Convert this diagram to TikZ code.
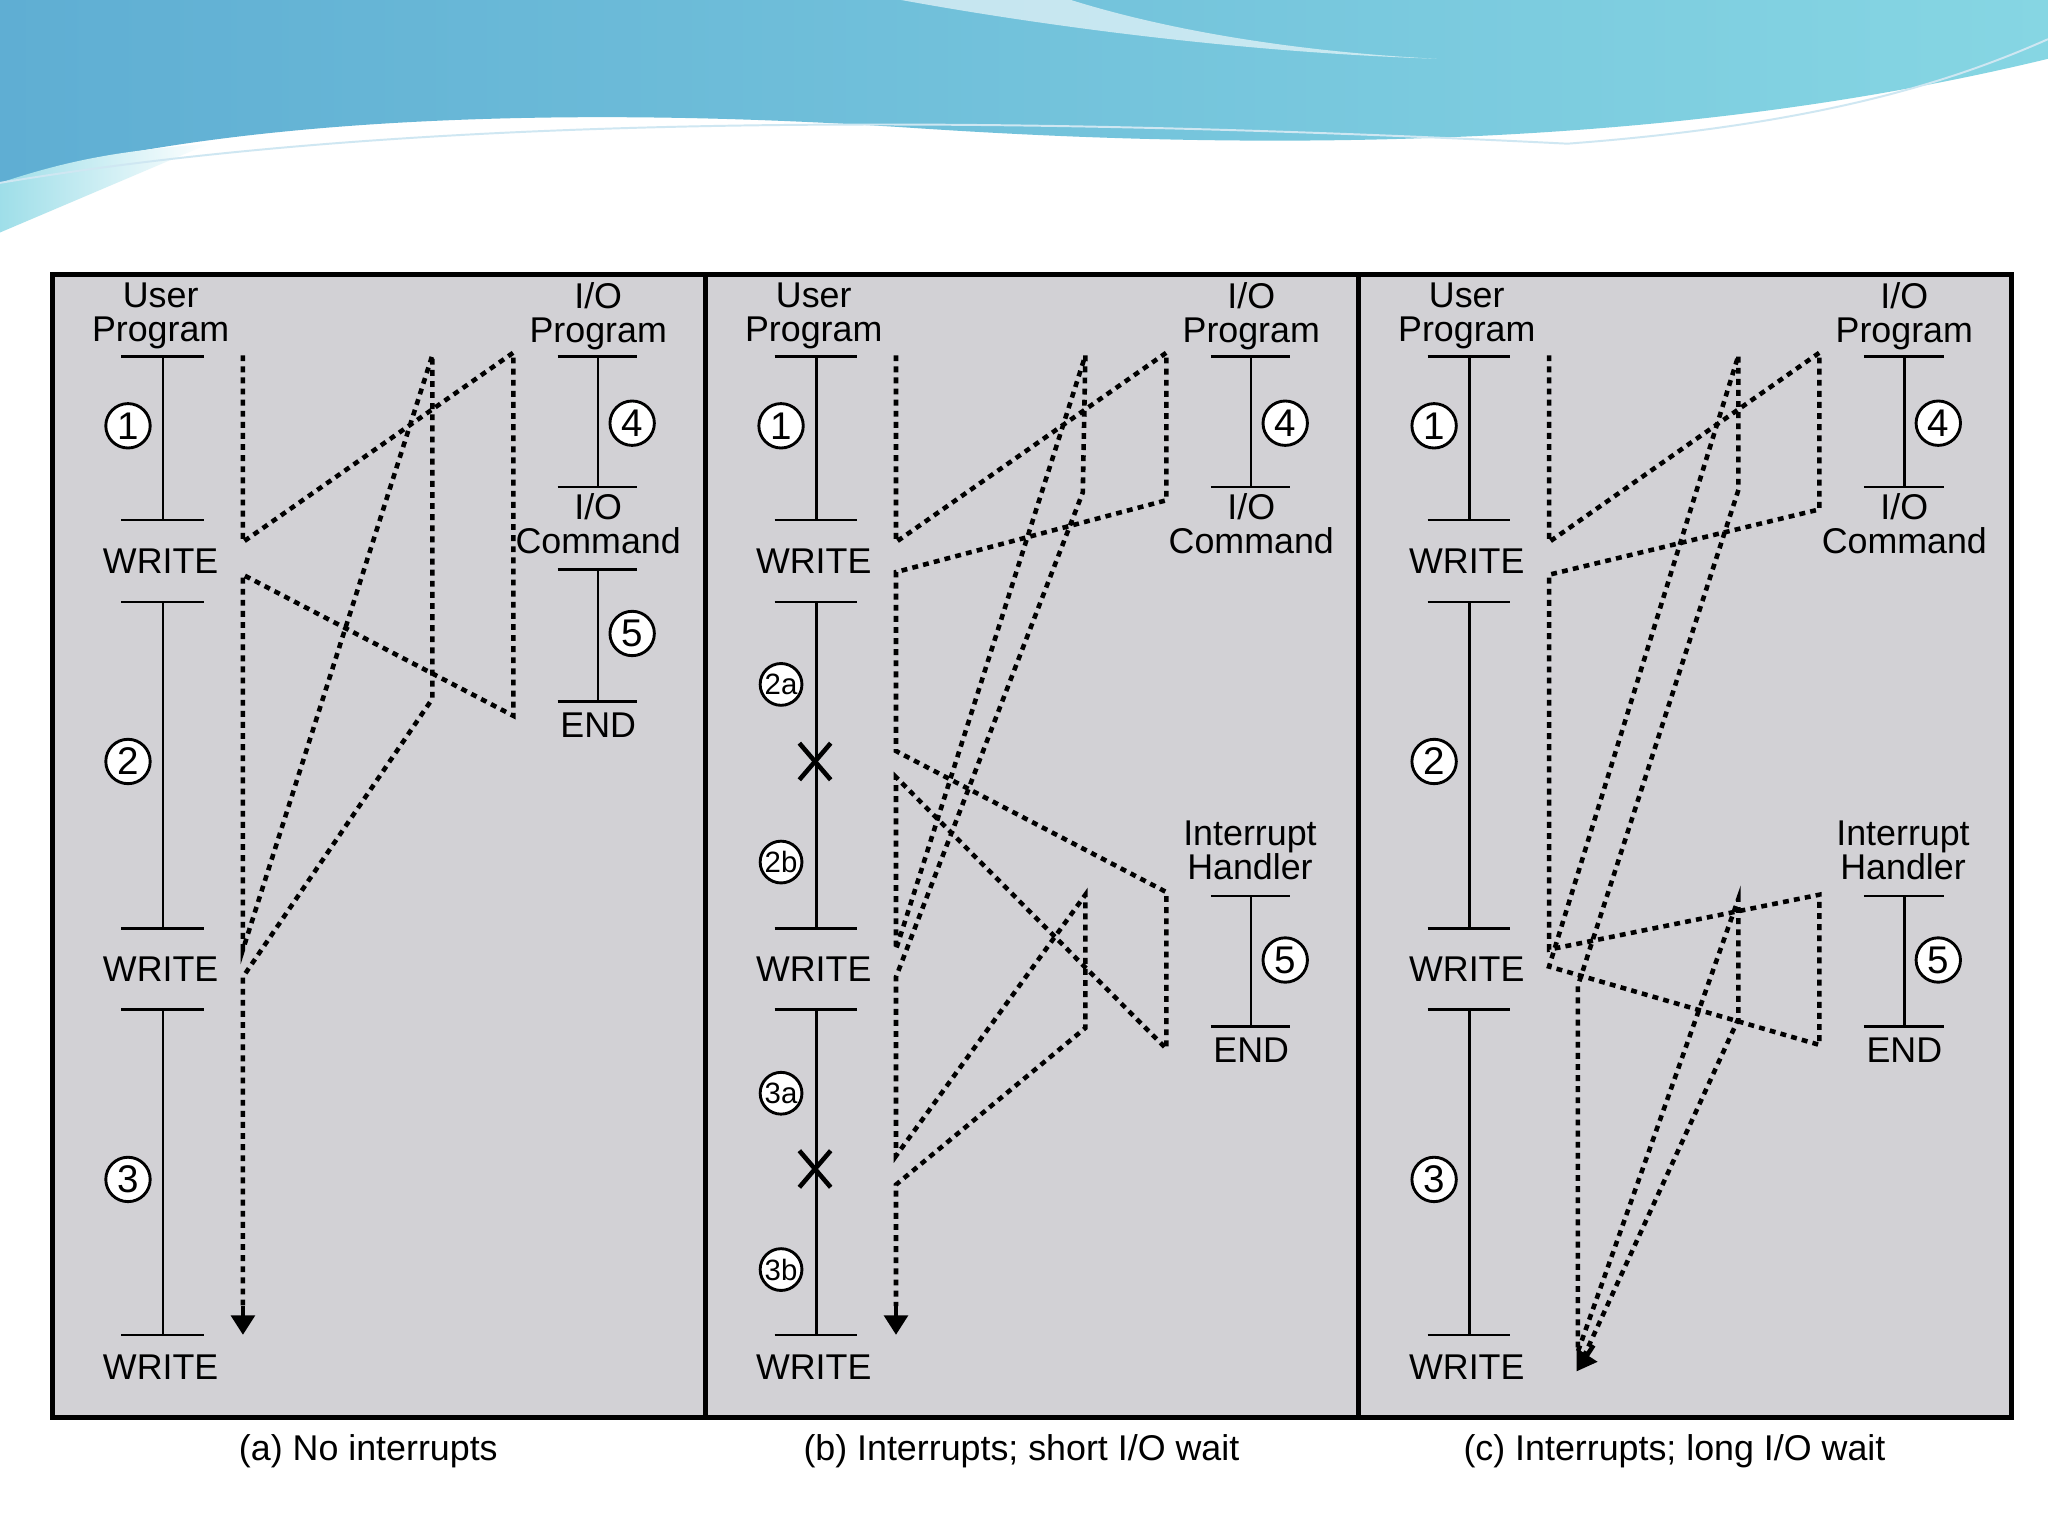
\documentclass[tikz,border=0pt]{standalone}
\usepackage{fontspec}
\setmainfont{Liberation Sans}
\usetikzlibrary{arrows.meta}
\definecolor{panelgray}{HTML}{D2D1D5}
\definecolor{bannerL}{HTML}{5FAED3}
\definecolor{bannerR}{HTML}{86D6E3}
\begin{document}
\begin{tikzpicture}[x=0.1mm,y=-0.1mm,
  lbl/.style={font=\fontsize{7.8pt}{7.4pt}\selectfont,align=center,inner sep=0pt},
  num/.style={circle,draw,line width=0.22mm,fill=white,minimum size=3.4mm,inner sep=0pt,font=\fontsize{8.4pt}{9pt}\selectfont},
  snum/.style={circle,draw,line width=0.22mm,fill=white,minimum size=3.2mm,inner sep=0pt,font=\fontsize{6.4pt}{7pt}\selectfont},
  bar/.style={line width=0.18mm},
  flow/.style={line width=0.35mm,dash pattern=on 0.45mm off 0.4mm},
  tip/.style={-{Triangle[length=1.5mm,width=1.8mm]}}]
\useasboundingbox (0,0) rectangle (1568,1176);
\fill[white] (0,0) rectangle (1568,1176);
% banner
\shade[left color=bannerL,right color=bannerR] (0,0)--(1568,0)--(1568,45) .. controls (1300,110) and (1000,118) .. (700,98) .. controls (400,78) and (150,95) .. (0,140)--cycle;
\shade[left color=bannerR!80,right color=white] (0,140) .. controls (60,120) and (100,115) .. (160,110) -- (0,178) -- cycle;
\fill[white,opacity=0.6] (690,0) -- (820,0) .. controls (900,25) and (1000,40) .. (1100,45) .. controls (950,40) and (800,20) .. (690,0);
\draw[white!70!bannerL,line width=0.15mm] (0,140) .. controls (300,90) and (700,85) .. (1200,110) .. controls (1400,95) and (1500,60) .. (1568,30);
% panels
\fill[panelgray] (40,210) rectangle (1540,1085);
\draw[line width=0.4mm] (40,210) rectangle (1540,1085) (540,210)--(540,1085) (1040,210)--(1040,1085);
\foreach \o/\p in {0/a,500/b,1000/c}{
\begin{scope}[xshift=\o*0.1mm]
 \node[lbl] (up\p) at (123,242) {User\\Program};
 \node[lbl] (iop\p) at (458,242) {I/O\\Program};
 \foreach \y in {273,398,461,711,773,1022} \draw[bar] (93,\y)--(156,\y);
 \draw[bar] (125,273)--(125,398) (125,461)--(125,711) (125,773)--(125,1022);
 \node[lbl] (w1\p) at (123,430) {WRITE};
 \node[lbl] (w2\p) at (123,742) {WRITE};
 \node[lbl] (w3\p) at (123,1047) {WRITE};
 \node[num] (n1\p) at (98,326) {1};
 \draw[bar] (427,273)--(488,273) (458,273)--(458,373) (427,373)--(488,373);
 \node[num] (n4\p) at (484,324) {4};
\end{scope}}
% panel a
\node[num] at (98,583) {2};
\node[num] at (98,903) {3};
\node[lbl] at (458,401) {I/O\\Command};
\draw[bar] (427,436)--(488,436) (458,436)--(458,537) (427,537)--(488,537);
\node[num] at (484,485) {5};
\node[lbl] at (458,555) {END};
\draw[flow] (186,272)--(186,415)--(393,270)--(393,548)--(186,440)--(186,727)--(331,272)--(331,535)--(186,748)--(186,1000);
\draw[tip,line width=0.35mm] (186,1000)--(186,1022);
% panel b and c shared
\foreach \o in {500,1000}{
\begin{scope}[xshift=\o*0.1mm]
 \node[lbl] at (458,401) {I/O\\Command};
 \node[lbl] at (457,651) {Interrupt\\Handler};
 \draw[bar] (427,686)--(488,686) (458,686)--(458,786) (427,786)--(488,786);
 \node[num] at (484,735) {5};
 \node[lbl] at (458,804) {END};
\end{scope}}
% panel b
\node[snum] at (598,524) {2a};
\node[snum] at (598,660) {2b};
\node[snum] at (598,837) {3a};
\node[snum] at (598,972) {3b};
\foreach \y in {583,895} \draw[line width=0.35mm] (612,\y-14)--(636,\y+14) (612,\y+14)--(636,\y-14);
\draw[flow] (686,272)--(686,415)--(893,270)--(893,383)--(686,438)--(686,575)--(893,683)--(893,803)--(686,595)--(686,727)--(831,272)--(829,377)--(686,748)--(686,885)--(831,685)--(831,787)--(686,907)--(686,1000);
\draw[tip,line width=0.35mm] (686,1000)--(686,1022);
% panel c
\node[num] at (1098,583) {2};
\node[num] at (1098,903) {3};
\draw[flow] (1186,272)--(1186,415)--(1393,270)--(1393,390)--(1186,440)--(1186,727)--(1393,685)--(1393,800)--(1186,740)--(1331,272)--(1331,375)--(1208,755)--(1208,1035)--(1331,688)--(1331,780)--(1212,1040);
\draw[tip,line width=0.35mm] (1220,1030)--(1207,1050);
% captions
\node[lbl] at (282,1111) {(a) No interrupts};
\node[lbl] at (782,1111) {(b) Interrupts; short I/O wait};
\node[lbl] at (1282,1111) {(c) Interrupts; long I/O wait};
\end{tikzpicture}
\end{document}
